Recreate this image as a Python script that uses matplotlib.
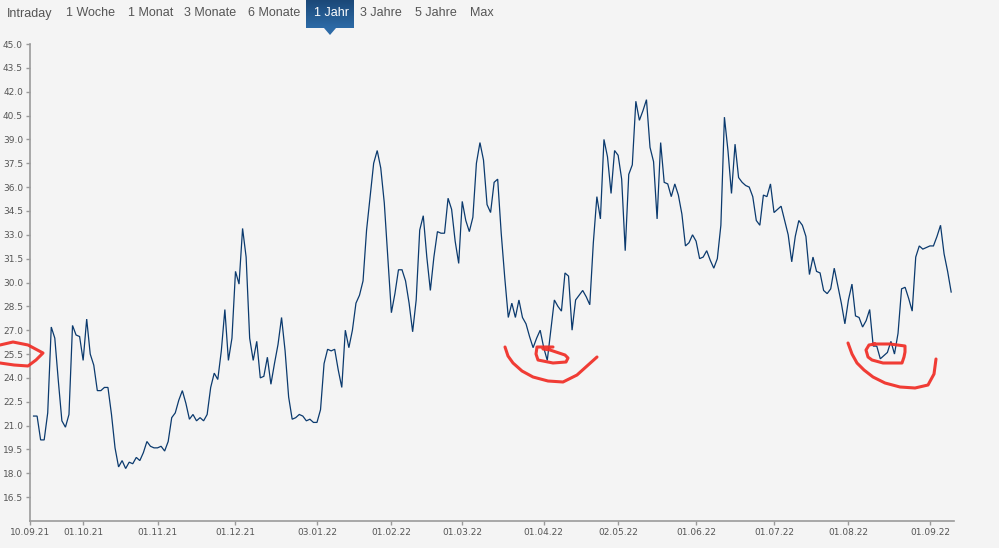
import numpy as np
import pandas as pd
import matplotlib
matplotlib.use("Agg")
import matplotlib.pyplot as plt
from matplotlib.patches import Polygon

# daily closes, 13.09.21 - 09.09.22 (business days)
prices = [
    21.6, 21.6, 20.1, 20.1, 21.8, 27.2, 26.5, 23.8, 21.3, 20.9,
    21.7, 27.3, 26.7, 26.6, 25.1, 27.7, 25.5, 24.8, 23.2, 23.2,
    23.4, 23.4, 21.7, 19.6, 18.4, 18.8, 18.3, 18.7, 18.6, 19.0,
    18.8, 19.3, 20.0, 19.7, 19.6, 19.6, 19.7, 19.4, 20.0, 21.5,
    21.8, 22.6, 23.2, 22.4, 21.4, 21.7, 21.3, 21.5, 21.3, 21.7,
    23.4, 24.3, 23.9, 25.7, 28.3, 25.1, 26.5, 30.7, 29.9, 33.4,
    31.6, 26.5, 25.1, 26.3, 24.0, 24.1, 25.3, 23.6, 24.9, 26.1,
    27.8, 25.7, 22.8, 21.4, 21.5, 21.7, 21.6, 21.3, 21.4, 21.2,
    21.2, 22.0, 24.9, 25.8, 25.7, 25.8, 24.5, 23.4, 27.0, 25.9,
    27.0, 28.7, 29.2, 30.1, 33.3, 35.4, 37.5, 38.3, 37.2, 35.0,
    31.6, 28.1, 29.3, 30.8, 30.8, 30.1, 28.7, 26.9, 28.9, 33.3,
    34.2, 31.6, 29.5, 31.6, 33.2, 33.1, 33.1, 35.3, 34.6, 32.6,
    31.2, 35.1, 33.9, 33.2, 34.1, 37.5, 38.8, 37.7, 34.9, 34.4,
    36.3, 36.5, 33.1, 30.3, 27.8, 28.7, 27.8, 28.9, 27.8, 27.4,
    26.6, 25.9, 26.5, 27.0, 25.9, 25.1, 27.0, 28.9, 28.5, 28.2,
    30.6, 30.4, 27.0, 28.9, 29.2, 29.5, 29.1, 28.6, 32.5, 35.4,
    34.0, 39.0, 37.9, 35.6, 38.3, 38.0, 36.5, 32.0, 36.8, 37.4,
    41.4, 40.2, 40.8, 41.5, 38.5, 37.6, 34.0, 38.8, 36.3, 36.2,
    35.4, 36.2, 35.5, 34.3, 32.3, 32.5, 33.0, 32.6, 31.5, 31.6,
    32.0, 31.4, 30.9, 31.5, 33.6, 40.4, 38.3, 35.6, 38.7, 36.6,
    36.3, 36.1, 36.0, 35.4, 33.9, 33.6, 35.5, 35.4, 36.2, 34.4,
    34.6, 34.8, 33.9, 33.0, 31.3, 32.9, 33.9, 33.6, 32.9, 30.5,
    31.6, 30.7, 30.6, 29.5, 29.3, 29.6, 30.9, 29.8, 28.7, 27.4,
    28.9, 29.9, 27.9, 27.8, 27.2, 27.6, 28.3, 26.0, 26.0, 25.2,
    25.4, 25.6, 26.3, 25.5, 26.8, 29.6, 29.7, 29.0, 28.2, 31.6,
    32.3, 32.1, 32.2, 32.3, 32.3, 32.9, 33.6, 31.8, 30.7, 29.4,
]

tick_labels = ['10.09.21', '01.10.21', '01.11.21', '01.12.21', '03.01.22',
               '01.02.22', '01.03.22', '01.04.22', '02.05.22', '01.06.22',
               '01.07.22', '01.08.22', '01.09.22']

tabs = ['Intraday', '1 Woche', '1 Monat', '3 Monate', '6 Monate',
        '1 Jahr', '3 Jahre', '5 Jahre', 'Max']

W, H = 999, 548
bg = '#f4f4f4'
axis_col = '#9a9a9a'
text_col = '#555555'

start = np.datetime64('2021-09-10')
dates = pd.bdate_range('2021-09-13', periods=len(prices))
x = np.busday_count(start, dates.values.astype('datetime64[D]'))
tick_dates = pd.to_datetime(tick_labels, format='%d.%m.%y').values.astype('datetime64[D]')
tick_pos = np.busday_count(start, tick_dates)

fig = plt.figure(figsize=(W / 100, H / 100), dpi=100, facecolor=bg)
ax = fig.add_axes([30 / W, 1 - 521 / H, (954 - 30) / W, (521 - 44) / H])
ax.set_facecolor(bg)

ax.plot(x, prices, color='#0b3a6e', lw=0.9, solid_joinstyle='miter')

ax.set_xlim(0, 260.8)
ax.set_ylim(15, 45)
yt = np.arange(16.5, 45.01, 1.5)
ax.set_yticks(yt)
ax.set_yticklabels(['%.1f' % v for v in yt])
ax.set_xticks(tick_pos)
ax.set_xticklabels(tick_labels)

for s in ['top', 'right']:
    ax.spines[s].set_visible(False)
for s in ['left', 'bottom']:
    ax.spines[s].set_color(axis_col)
    ax.spines[s].set_linewidth(1.2)
ax.tick_params(axis='both', colors=axis_col, labelcolor=text_col,
               labelsize=6.5, length=3, width=1)
ax.tick_params(axis='y', pad=2)
ax.tick_params(axis='x', pad=2)

# tab bar
tab_centers = [30, 90, 151, 210, 274, 331, 381, 436, 482]
# selected tab: gradient box + pointer
bax = fig.add_axes([306 / W, 1 - 28 / H, 48 / W, 28 / H])
grad = np.linspace(0, 1, 50).reshape(-1, 1)
cm = matplotlib.colors.LinearSegmentedColormap.from_list('tab', ['#1b4878', '#2c6aa6'])
bax.imshow(grad, aspect='auto', cmap=cm, extent=[0, 1, 0, 1], origin='upper')
bax.axis('off')
tri = Polygon([[324 / W, 1 - 28 / H], [336 / W, 1 - 28 / H], [330 / W, 1 - 35 / H]],
              closed=True, transform=fig.transFigure, color='#2c6aa6', lw=0)
fig.patches.append(tri)

for name, cx in zip(tabs, tab_centers):
    col = 'white' if name == '1 Jahr' else text_col
    fig.text(cx / W, 1 - 13.5 / H, name, ha='center', va='center',
             fontsize=9, color=col, family='Liberation Sans', zorder=5)

# red hand-drawn marks
def px(pts):
    return [(a / W, 1 - b / H) for a, b in pts]

marks = [
    [(0, 345), (13, 342), (28, 345), (43, 353), (36, 360), (28, 366), (14, 365), (0, 363)],
    [(553, 347), (537, 347), (536, 354), (538, 360), (553, 363), (566, 362), (568, 358),
     (565, 355), (550, 350), (543, 349)],
    [(505, 347), (508, 356), (513, 363), (522, 371), (533, 377), (548, 381), (563, 382),
     (577, 375), (587, 366), (597, 357)],
    [(873, 344), (890, 344), (905, 346), (905, 352), (904, 357), (902, 363), (883, 363),
     (872, 360), (868, 357), (866, 350), (869, 345), (875, 344)],
    [(848, 343), (852, 354), (857, 363), (864, 370), (873, 377), (885, 383), (900, 387),
     (915, 388), (928, 385), (934, 374), (936, 359)],
]
for m in marks:
    xs, ys = zip(*px(m))
    fig.add_artist(plt.Line2D(xs, ys, transform=fig.transFigure, color='#f0322a',
                              lw=2.2, solid_capstyle='round', solid_joinstyle='round',
                              alpha=0.95))

fig.savefig('out.png', dpi=100, facecolor=bg)
